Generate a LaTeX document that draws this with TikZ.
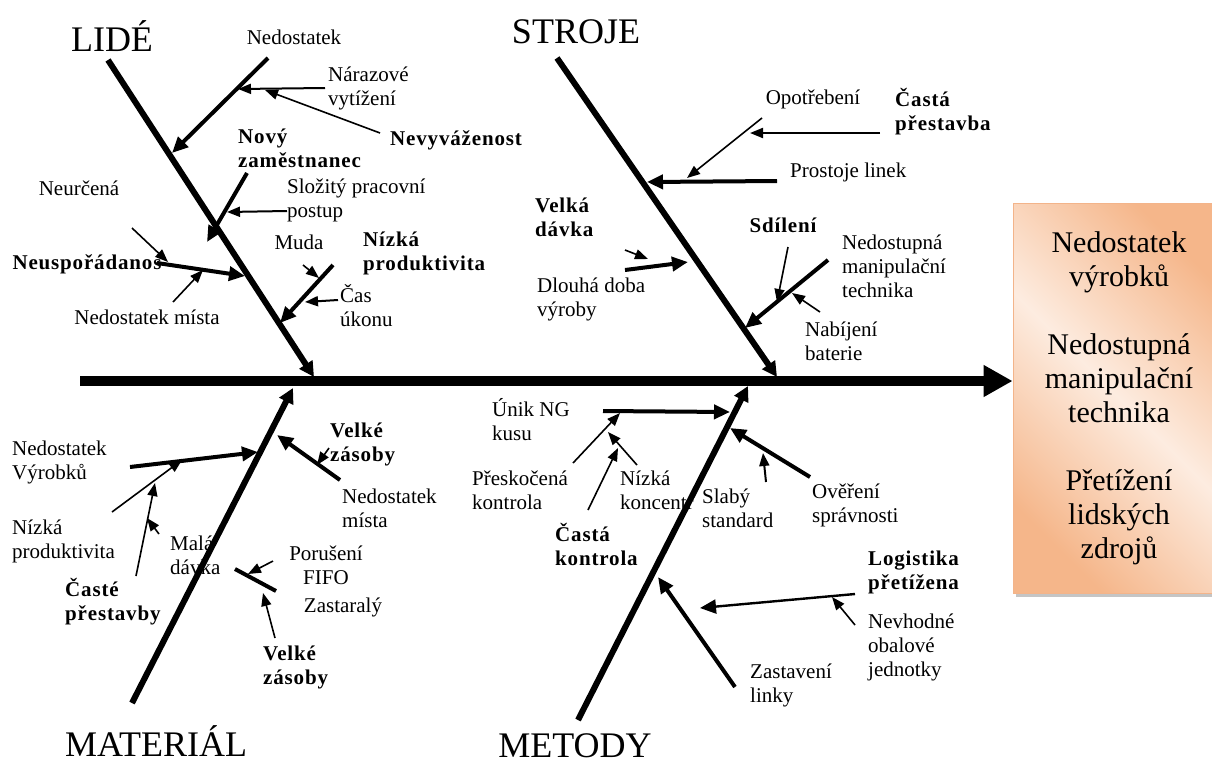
\documentclass[tikz,border=0pt]{standalone}
\usepackage{fontspec}
\setmainfont{Liberation Serif}
\usepackage{xcolor}
\usetikzlibrary{
	arrows.meta,						% Arrow tips
	shadows								% Shadow of the effect box
}
\definecolor{peachdark}{HTML}{F5B68A}
\definecolor{peachlight}{HTML}{FDECE0}
\definecolor{peachedge}{HTML}{F3B48A}

\begin{document}
\begin{tikzpicture}
		[
		,x=1pt, y=-1pt
		,bone_head/.tip = {
			Triangle[length=15pt, width=15pt]}
		,branch_head/.tip = {
			Triangle[length=16pt, width=14pt]}
		,cause_head/.tip = {
			Triangle[length=13pt, width=10pt]}
		,spine_line/.style = {
			,line width=10pt
			,-{Triangle[length=29pt, width=30pt]}}
		,bone/.style = {line width=6pt, -bone_head}
		,branch/.style = {line width=4pt, -branch_head}
		,cause/.style = {line width=1.6pt, -cause_head}
		,text_label/.style = {
			,inner sep=0pt
			,anchor=west
			,align=left
			,font=\fontsize{21}{24}\selectfont}
		,bold_label/.style = {
			,text_label
			,font=\fontsize{21}{24}\selectfont\bfseries\addfontfeature{LetterSpace=4}}
		,bone_title/.style = {
			,inner sep=0pt
			,font=\fontsize{36}{40}\selectfont}
		,effect_box/.style = {
			,draw=peachedge
			,line width=0.8pt
			,top color=peachdark
			,bottom color=peachdark
			,middle color=peachlight
			,shading angle=-45
			,minimum width=212pt
			,minimum height=390pt
			,inner sep=0pt
			,align=center
			,font=\fontsize{30}{34}\selectfont
			,drop shadow={shadow xshift=3pt, shadow yshift=-4pt, fill=black!45}}
		]
		\useasboundingbox (0,0) rectangle (1212,764);
		
		% Effect and spine
		\node[effect_box] (effect) at (1119,398) {Nedostatek\\výrobků\\[34pt]Nedostupná\\manipulační\\technika\\[34pt]Přetížení\\lidských\\zdrojů};
		\coordinate (spine) at (80,381);
		\draw[spine_line] (spine) -- (effect.west |- spine);
		
		% LIDE
		\node[bone_title] (lide) at (112,36) {LIDÉ};
		\coordinate (lide-top) at (108,60);
		\coordinate (lide-end) at (314,377);
		\draw[bone] (lide-top) -- (lide-end);
		
		\node[text_label, anchor=center] (nedost) at (294,37) {Nedostatek};
		\coordinate (nedost-a) at (268,58);
		\coordinate (nedost-b) at (172,153);
		\draw[branch] (nedost-a) -- (nedost-b);
		
		\node[text_label] (naraz) at (328,88) {Nárazové\\vytížení};
		\coordinate (naraz-a) at (325,88);
		\coordinate (naraz-b) at (238,89);
		\draw[cause, line width=2pt] (naraz-a) -- (naraz-b);
		
		\node[bold_label] (nevyv) at (390,140) {Nevyváženost};
		\coordinate (nevyv-a) at (380,133);
		\coordinate (nevyv-b) at (265,90);
		\draw[cause] (nevyv-a) -- (nevyv-b);
		
		\node[bold_label] (novy) at (238,148) {Nový\\zaměstnanec};
		\coordinate (novy-a) at (247,173);
		\coordinate (novy-b) at (207,242);
		\draw[branch] (novy-a) -- (novy-b);
		
		\node[text_label] (slozity) at (287,200) {Složitý pracovní\\postup};
		\coordinate (slozity-a) at (287,211);
		\coordinate (slozity-b) at (227,212);
		\draw[cause, line width=2pt] (slozity-a) -- (slozity-b);
		
		\node[text_label, anchor=center] (neurc) at (79,188) {Neurčená};
		\coordinate (neurc-a) at (132,228);
		\coordinate (neurc-b) at (168,262);
		\draw[cause] (neurc-a) -- (neurc-b);
		
		\node[bold_label, anchor=center] (neusp) at (87,264) {Neuspořádanos};
		\coordinate (neusp-a) at (157,263);
		\coordinate (neusp-b) at (245,276);
		\draw[branch] (neusp-a) -- (neusp-b);
		
		\node[text_label, anchor=center] (mista) at (147,317) {Nedostatek místa};
		\coordinate (mista-a) at (173,302);
		\coordinate (mista-b) at (203,270);
		\draw[cause] (mista-a) -- (mista-b);
		
		\node[text_label, anchor=center] (muda) at (299,242) {Muda};
		\coordinate (muda-a) at (303,265);
		\coordinate (muda-b) at (319,278);
		\draw[cause] (muda-a) -- (muda-b);
		
		\node[bold_label] (nizka) at (363,253) {Nízká\\produktivita};
		\coordinate (nizka-a) at (333,265);
		\coordinate (nizka-b) at (280,323);
		\draw[branch] (nizka-a) -- (nizka-b);
		
		\node[text_label] (cas) at (340,306) {Čas\\úkonu};
		\coordinate (cas-a) at (338,300);
		\coordinate (cas-b) at (305,302);
		\draw[cause, line width=2pt] (cas-a) -- (cas-b);
		
		% STROJE
		\node[bone_title] (stroje) at (576,32) {STROJE};
		\coordinate (stroje-top) at (557,58);
		\coordinate (stroje-end) at (777,377);
		\draw[bone] (stroje-top) -- (stroje-end);
		
		\node[text_label] (prostoje) at (790,172) {Prostoje linek};
		\coordinate (prostoje-a) at (777,181);
		\coordinate (prostoje-b) at (647,182);
		\draw[branch] (prostoje-a) -- (prostoje-b);
		
		\node[text_label, anchor=center] (opotr) at (813,99) {Opotřebení};
		\coordinate (opotr-a) at (762,118);
		\coordinate (opotr-b) at (687,178);
		\draw[cause] (opotr-a) -- (opotr-b);
		
		\node[bold_label] (prestavba) at (895,112) {Častá\\přestavba};
		\coordinate (prestavba-a) at (880,133);
		\coordinate (prestavba-b) at (750,133);
		\draw[cause, line width=2pt] (prestavba-a) -- (prestavba-b);
		
		\node[bold_label] (davka) at (535,217) {Velká\\dávka};
		\coordinate (davka-a) at (625,250);
		\coordinate (davka-b) at (648,259);
		\draw[cause] (davka-a) -- (davka-b);
		
		\node[text_label] (doba) at (537,299) {Dlouhá doba\\výroby};
		\coordinate (doba-a) at (625,270);
		\coordinate (doba-b) at (688,262);
		\draw[branch] (doba-a) -- (doba-b);
		
		\node[bold_label, anchor=center] (sdileni) at (783,225) {Sdílení};
		\coordinate (sdileni-a) at (788,247);
		\coordinate (sdileni-b) at (777,302);
		\draw[cause] (sdileni-a) -- (sdileni-b);
		
		\node[text_label] (manip) at (842,266) {Nedostupná\\manipulační\\technika};
		\coordinate (manip-a) at (828,260);
		\coordinate (manip-b) at (745,328);
		\draw[branch] (manip-a) -- (manip-b);
		
		\node[text_label] (nabij) at (805,341) {Nabíjení\\baterie};
		\coordinate (nabij-a) at (820,312);
		\coordinate (nabij-b) at (792,293);
		\draw[cause] (nabij-a) -- (nabij-b);
		
		% MATERIAL
		\node[bone_title] (material) at (156,741) {MATERIÁL};
		\node[text_label] (mala) at (170,555) {Malá\\dávka};
		\coordinate (material-end) at (132,703);
		\coordinate (material-tip) at (293,388);
		\draw[bone] (material-end) -- (material-tip);
		
		\node[text_label] (vyrob) at (12,462) {Nedostatek\\Výrobků};
		\coordinate (vyrob-a) at (130,467);
		\coordinate (vyrob-b) at (258,452);
		\draw[branch] (vyrob-a) -- (vyrob-b);
		
		\node[text_label] (prod) at (12,541) {Nízká\\produktivita};
		\coordinate (prod-a) at (112,512);
		\coordinate (prod-b) at (182,460);
		\draw[cause] (prod-a) -- (prod-b);
		
		\node[bold_label] (caste) at (65,602) {Časté\\přestavby};
		\coordinate (caste-a) at (136,576);
		\coordinate (caste-b) at (155,483);
		\coordinate (caste-c) at (159,534);
		\coordinate (caste-d) at (147,518);
		\draw[cause] (caste-a) -- (caste-b);
		\draw[cause] (caste-c) -- (caste-d);
		
		\node[bold_label] (zasoby) at (330,444) {Velké\\zásoby};
		\coordinate (zasoby-a) at (329,448);
		\coordinate (zasoby-b) at (317,465);
		\draw[cause] (zasoby-a) -- (zasoby-b);
		
		\node[text_label] (misto) at (342,508) {Nedostatek\\místa};
		\coordinate (misto-a) at (340,480);
		\coordinate (misto-b) at (277,435);
		\draw[branch] (misto-a) -- (misto-b);
		
		\coordinate (fifo-a) at (235,569);
		\coordinate (fifo-b) at (276,591);
		\draw[branch, -] (fifo-a) -- (fifo-b);
		
		\node[text_label, align=center, anchor=center] (poruseni) at (326,565) {Porušení\\FIFO};
		\coordinate (poruseni-a) at (273,561);
		\coordinate (poruseni-b) at (248,574);
		\draw[cause] (poruseni-a) -- (poruseni-b);
		
		\node[text_label, anchor=center] (zastaraly) at (343,607) {Zastaralý};
		
		\node[bold_label] (zasoby2) at (263,667) {Velké\\zásoby};
		\coordinate (zasoby2-a) at (275,638);
		\coordinate (zasoby2-b) at (263,593);
		\draw[cause] (zasoby2-a) -- (zasoby2-b);
		
		% METODY
		\node[bone_title] (metody) at (575,746) {METODY};
		\coordinate (metody-end) at (578,720);
		\coordinate (metody-tip) at (748,386);
		\draw[bone] (metody-end) -- (metody-tip);
		
		\node[text_label] (unik) at (492,420) {Únik NG\\kusu};
		\coordinate (unik-a) at (603,411);
		\coordinate (unik-b) at (730,412);
		\draw[branch] (unik-a) -- (unik-b);
		
		\node[text_label] (presk) at (472,490) {Přeskočená\\kontrola};
		\coordinate (presk-a) at (573,463);
		\coordinate (presk-b) at (620,413);
		\draw[cause] (presk-a) -- (presk-b);
		
		\node[text_label] (konc) at (620,490) {Nízká\\koncentr};
		\coordinate (konc-a) at (637,465);
		\coordinate (konc-b) at (608,432);
		\draw[cause] (konc-a) -- (konc-b);
		
		\node[bold_label] (kontrola) at (555,544) {Častá\\kontrola};
		\coordinate (kontrola-a) at (588,510);
		\coordinate (kontrola-b) at (618,448);
		\draw[cause] (kontrola-a) -- (kontrola-b);
		
		\node[text_label] (slaby) at (702,508) {Slabý\\standard};
		\coordinate (slaby-a) at (766,482);
		\coordinate (slaby-b) at (763,453);
		\draw[cause, line width=2pt] (slaby-a) -- (slaby-b);
		
		\node[text_label] (overeni) at (812,505) {Ověření\\správnosti};
		\coordinate (overeni-a) at (810,477);
		\coordinate (overeni-b) at (730,428);
		\draw[branch] (overeni-a) -- (overeni-b);
		
		\node[bold_label] (logist) at (868,572) {Logistika\\přetížena};
		\coordinate (logist-a) at (855,594);
		\coordinate (logist-b) at (700,608);
		\draw[cause, line width=2.4pt, -branch_head] (logist-a) -- (logist-b);
		
		\node[text_label] (nevhod) at (868,647) {Nevhodné\\obalové\\jednotky};
		\coordinate (nevhod-a) at (855,625);
		\coordinate (nevhod-b) at (832,597);
		\draw[cause] (nevhod-a) -- (nevhod-b);
		
		\node[text_label] (zastav) at (750,685) {Zastavení\\linky};
		\coordinate (zastav-a) at (735,687);
		\coordinate (zastav-b) at (658,577);
		\draw[branch] (zastav-a) -- (zastav-b);
	\end{tikzpicture}
\end{document}
